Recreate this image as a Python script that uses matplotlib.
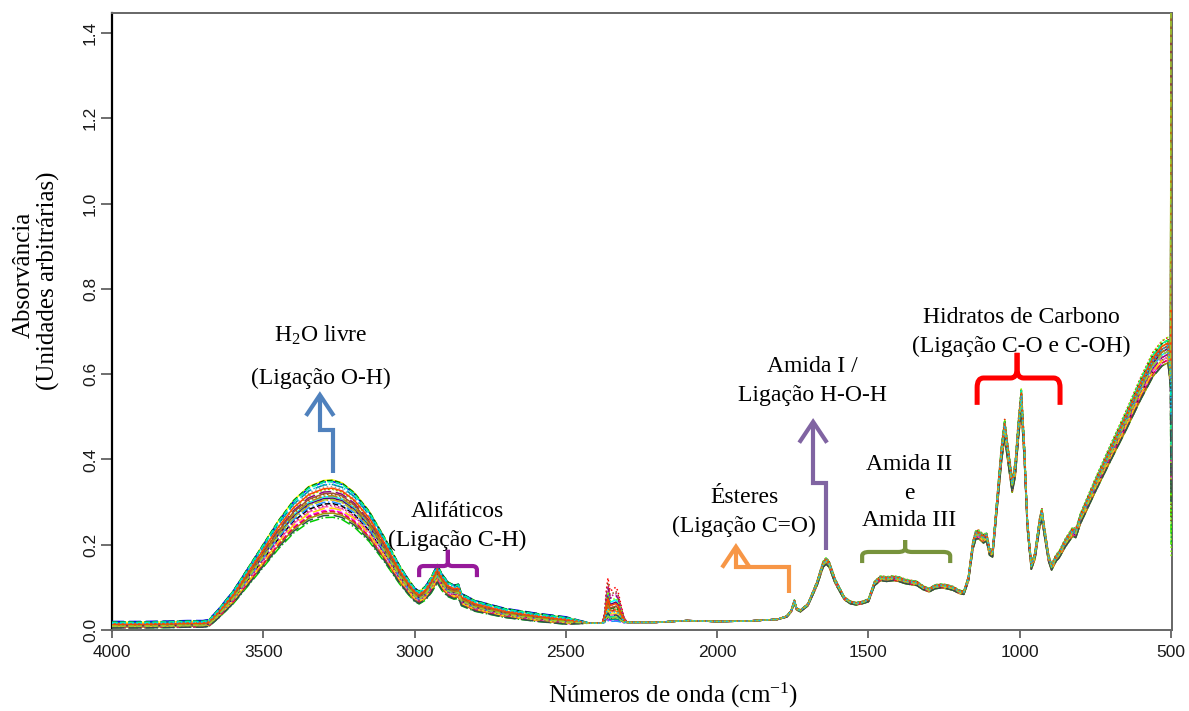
import numpy as np
import matplotlib
matplotlib.use("Agg")
import matplotlib.pyplot as plt
from matplotlib.path import Path
from matplotlib.patches import PathPatch, FancyArrowPatch

plt.rcParams['mathtext.fontset'] = 'custom'
plt.rcParams['mathtext.rm'] = 'Liberation Serif'
plt.rcParams['mathtext.it'] = 'Liberation Serif:italic'
plt.rcParams['mathtext.bf'] = 'Liberation Serif:bold'

# ---------------- data ----------------
# mean FTIR absorbance spectrum (wavenumber in cm-1, absorbance)
wn_pts = [4000, 3900, 3800, 3750, 3700, 3680, 3650, 3600, 3550, 3500, 3450,
          3400, 3350, 3300, 3270, 3240, 3200, 3150, 3100, 3050, 3020, 3000,
          2985, 2965, 2945, 2925, 2910, 2890, 2870, 2855, 2845, 2800, 2700,
          2600, 2500, 2420, 2380, 2372, 2366, 2361, 2354, 2345, 2335, 2328,
          2318, 2308, 2298, 2200, 2100, 2000, 1900, 1800, 1770, 1755, 1745,
          1738, 1725, 1700, 1670, 1650, 1640, 1630, 1610, 1580, 1560, 1540,
          1520, 1500, 1480, 1460, 1440, 1420, 1400, 1380, 1360, 1340, 1320,
          1300, 1280, 1260, 1240, 1220, 1200, 1185, 1170, 1155, 1145, 1135,
          1120, 1110, 1100, 1090, 1075, 1060, 1050, 1040, 1025, 1015, 1005,
          995, 985, 975, 962, 950, 935, 927, 918, 905, 895, 880, 870, 850,
          825, 815, 800, 750, 700, 650, 600, 560, 530, 510, 502, 500]
abs_pts = [0.010, 0.010, 0.011, 0.012, 0.012, 0.014, 0.035, 0.075, 0.125, 0.175, 0.225,
           0.268, 0.297, 0.310, 0.311, 0.305, 0.285, 0.245, 0.190, 0.130, 0.100, 0.082,
           0.075, 0.085, 0.105, 0.132, 0.112, 0.095, 0.088, 0.090, 0.070, 0.055, 0.038,
           0.028, 0.020, 0.016, 0.016, 0.030, 0.060, 0.075, 0.058, 0.060, 0.063, 0.058,
           0.040, 0.024, 0.018, 0.018, 0.022, 0.020, 0.021, 0.025, 0.032, 0.045, 0.068,
           0.050, 0.045, 0.060, 0.110, 0.155, 0.163, 0.155, 0.115, 0.075, 0.065, 0.062,
           0.065, 0.070, 0.110, 0.122, 0.120, 0.122, 0.120, 0.115, 0.112, 0.110, 0.100,
           0.094, 0.102, 0.104, 0.102, 0.098, 0.090, 0.088, 0.120, 0.200, 0.225, 0.225,
           0.215, 0.220, 0.185, 0.180, 0.300, 0.420, 0.475, 0.420, 0.340, 0.380, 0.470,
           0.545, 0.420, 0.250, 0.150, 0.175, 0.250, 0.275, 0.230, 0.170, 0.148, 0.170, 0.178, 0.205,
           0.232, 0.228, 0.262, 0.342, 0.418, 0.492, 0.570, 0.626, 0.652, 0.660, 0.600, 0.600]

# per-sample readings
oh_peak = [0.345, 0.298, 0.327, 0.268, 0.339, 0.312, 0.284, 0.331, 0.305, 0.322,
           0.276, 0.343, 0.317, 0.291, 0.335, 0.309, 0.281, 0.325, 0.301, 0.288,
           0.319, 0.341, 0.294, 0.314, 0.273, 0.329, 0.307, 0.337]
co2_peak = [0.045, 0.030, 0.122, 0.060, 0.038, 0.085, 0.025, 0.070, 0.052, 0.098,
            0.034, 0.064, 0.110, 0.042, 0.028, 0.078, 0.056, 0.090, 0.022, 0.048,
            0.066, 0.036, 0.104, 0.058, 0.040, 0.074, 0.032, 0.050]
fp_scale = [1.02, 0.97, 1.04, 0.95, 1.01, 0.99, 0.96, 1.03, 1.00, 0.98,
            0.95, 1.03, 1.01, 0.97, 1.02, 1.00, 0.96, 1.04, 0.99, 0.97,
            1.01, 1.03, 0.98, 1.00, 0.95, 1.02, 0.99, 1.01]
low_base = [0.018, 0.008, 0.014, 0.005, 0.020, 0.011, 0.006, 0.016, 0.010, 0.013,
            0.007, 0.019, 0.012, 0.008, 0.017, 0.010, 0.006, 0.015, 0.009, 0.007,
            0.012, 0.018, 0.008, 0.011, 0.005, 0.014, 0.009, 0.016]
end_value = [1.60, 0.62, 1.30, 0.20, 0.95, 1.45, 0.35, 1.10, 0.66, 0.45,
             1.52, 0.80, 0.25, 1.20, 0.55, 1.38, 0.70, 0.17, 1.02, 0.60,
             1.48, 0.40, 0.88, 1.25, 0.30, 0.75, 1.58, 0.50]

x_ticks = [4000, 3500, 3000, 2500, 2000, 1500, 1000, 500]
y_ticks = [0.0, 0.2, 0.4, 0.6, 0.8, 1.0, 1.2, 1.4]

colors = ['#FFFF00', 'black', 'red', '#00CD00', 'blue', 'cyan', 'magenta', '#9E9E9E',
          '#FF8C00', '#8B008B', '#9B9B00', '#006400', '#8B4513', '#FF69B4',
          '#008B8B', '#4B0082', '#DC143C', '#7FFF00', '#1E90FF', '#FFD700',
          '#A0522D', '#00FA9A', '#C71585', '#B8860B', '#2F4F4F', '#FF4500',
          '#9ACD32', '#00BFFF']
styles = ['-', '--', ':', '-.', (0, (8, 3))]

wn = np.array(wn_pts, dtype=float)
base = np.array(abs_pts, dtype=float)
oh_ref = 0.311
co2_ref = 0.075


def sample_spectrum(i):
    y = base.copy()
    hi = wn > 2450
    y[hi] = low_base[i] + (base[hi] - 0.010) * oh_peak[i] / oh_ref
    co2 = (wn > 2300) & (wn < 2400)
    y[co2] = 0.016 + (base[co2] - 0.016) * (co2_peak[i] - 0.016) / (co2_ref - 0.016)
    fp = wn < 1800
    y[fp] = base[fp] * fp_scale[i]
    y[-1] = end_value[i]
    return y


# ---------------- figure ----------------
W, H = 1189, 711
fig = plt.figure(figsize=(W / 100, H / 100), dpi=100)
ax = fig.add_axes([112 / W, 1 - 630 / H, (1172 - 112) / W, (630 - 13) / H])

for i in range(len(oh_peak)):
    ax.plot(wn, sample_spectrum(i), color=colors[i % len(colors)],
            ls=styles[i % len(styles)], lw=1.1, zorder=3)

ax.set_xlim(4000, 497)
ax.set_ylim(0, 1.447)
ax.set_xticks(x_ticks)
ax.set_yticks(y_ticks)
ax.set_xticklabels([str(v) for v in x_ticks], family='Liberation Sans',
                   fontsize=12.5, color='#1a1a1a')
ax.set_yticklabels([f"{v:.1f}" for v in y_ticks], family='Liberation Sans',
                   fontsize=12.5, color='#1a1a1a', rotation=90, va='center')
ax.tick_params(axis='x', length=6, width=1.2, color='#555555', pad=5)
ax.tick_params(axis='y', length=8, width=1.2, color='#555555', pad=2)
for side in ['top', 'right', 'bottom']:
    ax.spines[side].set_color('#666666')
    ax.spines[side].set_linewidth(1.4)
ax.spines['left'].set_color('black')
ax.spines['left'].set_linewidth(1.6)

serif = 'Liberation Serif'
fig.text(673 / W, 1 - 695 / H, 'Números de onda (cm$^{\\mathrm{-1}}$)', family=serif,
         fontsize=18, ha='center', va='center')
fig.text(24 / W, 1 - 275 / H, 'Absorvância', family=serif, fontsize=18,
         rotation=90, ha='center', va='center')
fig.text(48 / W, 1 - 281 / H, '(Unidades arbitrárias)', family=serif,
         fontsize=18, rotation=90, ha='center', va='center')

# ---------------- annotations ----------------
TS = 17


def label(x, y, s):
    ax.text(x, y, s, family=serif, fontsize=TS, ha='center', va='center', zorder=4)


label(3309, 0.692, 'H$_\\mathrm{2}$O livre')
label(3309, 0.591, '(Ligação O-H)')
label(2860, 0.279, 'Alifáticos')
label(2860, 0.211, '(Ligação C-H)')
label(1911, 0.310, 'Ésteres')
label(1911, 0.244, '(Ligação C=O)')
label(1686, 0.619, 'Amida I /')
label(1686, 0.551, 'Ligação H-O-H')
label(1366, 0.387, 'Amida II')
label(1366, 0.319, 'e')
label(1366, 0.256, 'Amida III')
label(996, 0.732, 'Hidratos de Carbono')
label(996, 0.664, '(Ligação C-O e C-OH)')


def elbow_arrow(pts, color):
    arr = FancyArrowPatch(path=Path(pts), arrowstyle='->,head_length=0.75,head_width=0.5',
                          mutation_scale=20, color=color, lw=3.0,
                          transform=ax.transData, capstyle='butt', joinstyle='miter',
                          zorder=4)
    ax.add_patch(arr)


elbow_arrow([(3270, 0.368), (3270, 0.469), (3313, 0.469), (3313, 0.560)], '#4F81BD')
elbow_arrow([(1762, 0.087), (1762, 0.148), (1938, 0.148), (1938, 0.204)], '#F79646')
elbow_arrow([(1640, 0.188), (1640, 0.345), (1683, 0.345), (1683, 0.497)], '#8064A2')


def brace(left, right, mid, bottom, level, tip, color, lw):
    rx = abs(left - mid) * 0.16
    ry = (level - bottom) * 0.35
    sgn = 1 if right > left else -1
    for end, d in ((left, sgn), (right, -sgn)):
        verts = [(end, bottom), (end, level - ry), (end, level), (end + d * rx, level),
                 (mid - d * rx, level), (mid, level), (mid, level + ry), (mid, tip)]
        codes = [Path.MOVETO, Path.LINETO, Path.CURVE3, Path.CURVE3,
                 Path.LINETO, Path.CURVE3, Path.CURVE3, Path.LINETO]
        ax.add_patch(PathPatch(Path(verts, codes), fill=False, edgecolor=color,
                               lw=lw, capstyle='butt', joinstyle='round', zorder=4))


brace(2985, 2794, 2890, 0.124, 0.150, 0.188, '#96199A', 3.0)
brace(1521, 1230, 1379, 0.157, 0.183, 0.211, '#77933C', 3.0)
brace(1141, 867, 1009, 0.528, 0.591, 0.650, '#FF0000', 3.6)

fig.savefig('out.png', dpi=100)
